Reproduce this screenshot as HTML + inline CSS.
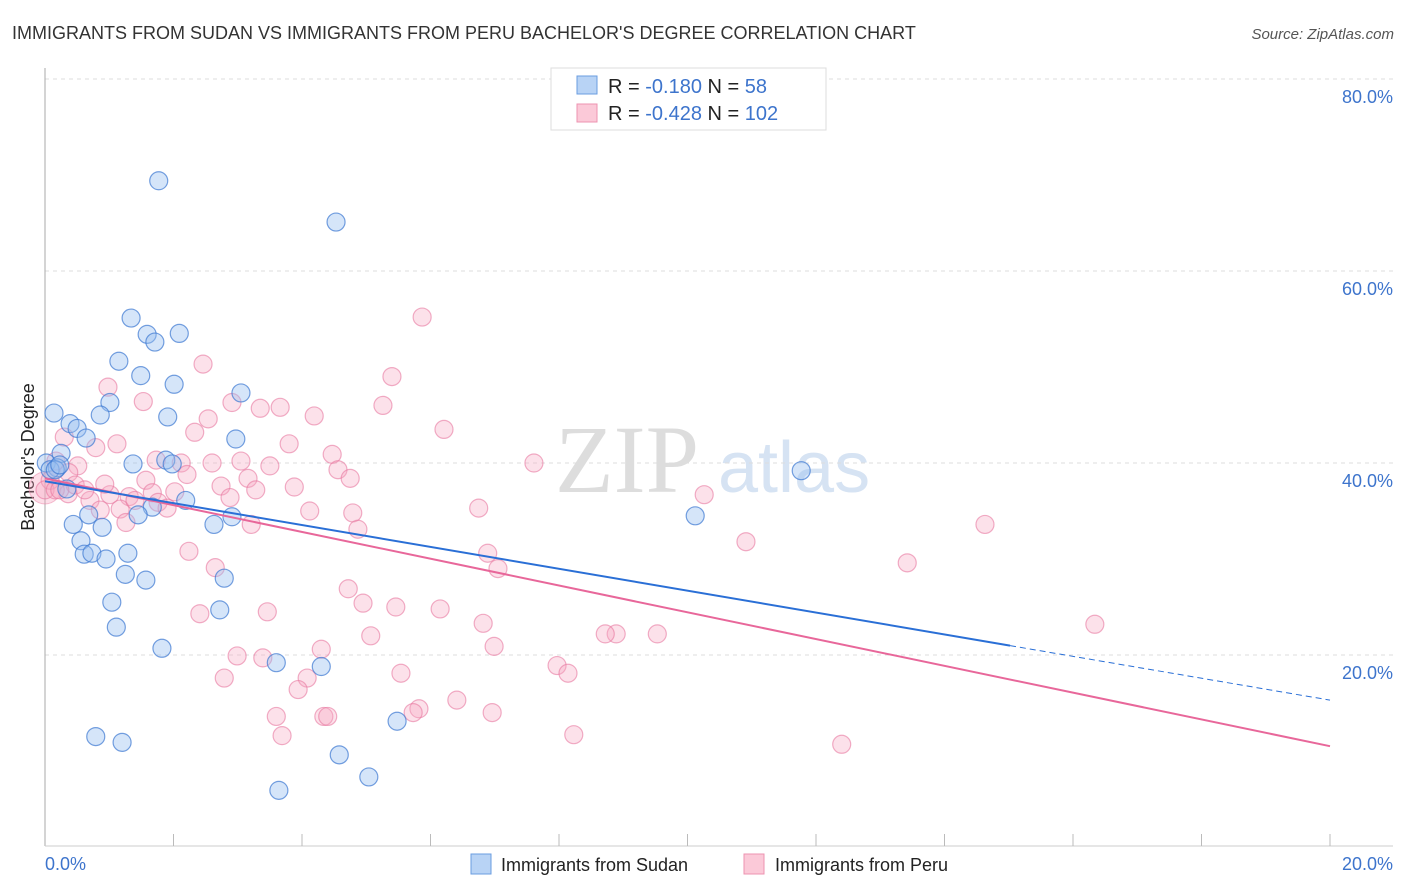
<!DOCTYPE html>
<html><head><meta charset="utf-8"><style>
body{margin:0;background:#fff;font-family:"Liberation Sans",sans-serif}
svg{display:block}
</style></head><body>
<svg width="1406" height="892" xmlns="http://www.w3.org/2000/svg">
<text x="12" y="39" font-size="18" fill="#333">IMMIGRANTS FROM SUDAN VS IMMIGRANTS FROM PERU BACHELOR'S DEGREE CORRELATION CHART</text>
<text x="1394" y="39" font-size="15" fill="#555" font-style="italic" text-anchor="end">Source: ZipAtlas.com</text>
<text x="555" y="492" font-size="96" fill="#ddd" font-family="Liberation Serif">ZIP</text>
<text x="718" y="492" font-size="72" fill="#d6e3f3">atlas</text>
<g id="grid"></g>
<line x1="45" y1="68" x2="45" y2="846" stroke="#aaa"/>
<line x1="45" y1="846" x2="1393" y2="846" stroke="#ccc"/>
<g id="xt"></g>
<text transform="translate(34,457) rotate(-90)" font-size="18" fill="#222" text-anchor="middle">Bachelor's Degree</text>
<g id="pts"></g>
<g id="lines"></g>
<g>
<rect x="551" y="68" width="275" height="62" fill="#fff" stroke="#ddd"/>
<rect x="577" y="76" width="20" height="18" fill="#b8d3f5" stroke="#6a9de0"/>
<rect x="577" y="104" width="20" height="18" fill="#fbc9d8" stroke="#ee93b0"/>
<text x="608" y="93" font-size="20" fill="#222">R = <tspan fill="#3d74cc">-0.180</tspan>   N = <tspan fill="#3d74cc">  58</tspan></text>
<text x="608" y="120" font-size="20" fill="#222">R = <tspan fill="#3d74cc">-0.428</tspan>   N = <tspan fill="#3d74cc">102</tspan></text>
</g>
<g>
<rect x="471" y="854" width="20" height="20" fill="#b8d3f5" stroke="#6a9de0"/>
<text x="501" y="871" font-size="18" fill="#222">Immigrants from Sudan</text>
<rect x="744" y="854" width="20" height="20" fill="#fbc9d8" stroke="#ee93b0"/>
<text x="775" y="871" font-size="18" fill="#222">Immigrants from Peru</text>
</g>
<text x="45" y="870" font-size="18" fill="#3d74cc">0.0%</text>
<text x="1393" y="870" font-size="18" fill="#3d74cc" text-anchor="end">20.0%</text>
<g id="yl"></g>
</svg>
<script>
const yTicks=[20,40,60,80];
const yTickLabels=["20.0%","40.0%","60.0%","80.0%"];
const sudanX=[1.77,4.53,1.34,1.59,1.71,2.09,1.15,1.49,2.01,3.05,0.14,1.01,0.86,1.91,0.39,0.50,0.64,2.97,0.25,0.02,0.19,0.08,1.37,1.88,1.98,11.77,0.34,2.19,1.67,1.45,0.68,2.91,10.12,0.44,0.89,2.63,0.56,0.61,0.73,1.29,0.95,1.25,1.57,2.79,1.04,2.72,1.11,1.82,3.60,4.30,0.79,1.20,5.48,4.58,5.04,3.64,0.16,0.23];
const sudanY=[69.4,65.1,55.1,53.4,52.6,53.5,50.6,49.1,48.2,47.3,45.2,46.3,45.0,44.8,44.1,43.6,42.6,42.5,41.0,40.0,39.5,39.3,39.9,40.3,39.9,39.2,37.3,36.1,35.4,34.6,34.6,34.4,34.5,33.6,33.3,33.6,31.9,30.5,30.6,30.6,30.0,28.4,27.8,28.0,25.5,24.7,22.9,20.7,19.2,18.8,11.5,10.9,13.1,9.6,7.3,5.9,39.3,39.8];
const peruX=[5.87,2.46,5.40,0.98,1.53,2.91,3.35,3.66,4.19,5.26,2.54,6.21,2.33,0.30,1.12,0.79,3.80,4.47,0.17,0.51,1.73,2.12,2.60,3.05,3.50,4.56,7.61,4.75,0.37,1.57,2.21,3.16,3.88,2.74,3.28,0.36,1.01,0.70,1.31,1.67,2.02,0.93,2.88,4.79,6.75,10.26,14.63,4.12,1.17,1.76,1.90,1.26,3.21,4.87,10.91,2.24,6.89,7.05,13.42,2.65,4.72,4.95,2.41,3.46,5.46,6.15,6.82,5.07,8.89,8.72,9.53,16.34,6.99,4.30,2.99,3.39,7.97,8.14,5.54,2.79,4.08,3.94,6.41,5.82,5.73,3.60,4.34,4.40,6.96,3.69,8.23,12.40,0.08,0.0,0.16,0.47,0.23,0.86,1.40,0.62];
const peruY=[55.2,50.3,49.0,47.9,46.4,46.3,45.7,45.8,44.9,46.0,44.6,43.5,43.2,42.7,42.0,41.6,42.0,40.9,40.2,39.7,40.3,40.0,40.0,40.2,39.7,39.3,40.0,38.4,39.0,38.2,38.8,38.4,37.5,37.6,37.2,36.8,36.7,36.1,36.5,36.9,37.0,37.8,36.4,34.8,35.3,36.7,33.6,35.0,35.2,35.9,35.3,33.8,33.6,33.1,31.8,30.8,30.6,29.0,29.6,29.1,26.9,25.4,24.3,24.5,25.0,24.8,23.3,22.0,22.2,22.2,22.2,23.2,20.9,20.6,19.9,19.7,18.9,18.1,18.1,17.6,17.6,16.4,15.3,14.4,14.0,13.6,13.6,13.6,14.0,11.6,11.7,10.7,38.2,37.2,37.2,37.7,37.2,35.1,36.1,37.2];
const sudanTrend=[38.1,15.3];
const peruTrend=[38.4,10.5];
const sudanSolidEnd=15.02;
const NS="http://www.w3.org/2000/svg";
const xs=v=>45+v/20*1285, ys=v=>847-v*9.6;
function mk(t,a,p){const e=document.createElementNS(NS,t);for(const k in a)e.setAttribute(k,a[k]);p.appendChild(e);return e;}
const grid=document.getElementById('grid'),yl=document.getElementById('yl'),xt=document.getElementById('xt');
yTicks.forEach((t,i)=>{
 const l=mk('line',{x1:45,x2:1393,y1:ys(t),y2:ys(t),stroke:'#ddd','stroke-dasharray':'4 4'},grid);
 
 
 const tx=mk('text',{x:1393,y:ys(t)+24,'font-size':18,fill:'#3d74cc','text-anchor':'end'},yl);
 tx.textContent=yTickLabels[i];
 
 
});
for(let i=1;i<=10;i++){
 const l=mk('line',{x1:xs(i*2),x2:xs(i*2),y1:834,y2:846,stroke:'#bbb'},xt);
 
 
}
const pts=document.getElementById('pts');
const big=mk('circle',{cx:xs(0),cy:ys(37.4),r:16,fill:'rgba(246,160,188,0.35)',stroke:'rgba(236,130,165,0.5)'},pts);


peruX.forEach((x,i)=>{
 const c=mk('circle',{cx:xs(x),cy:ys(peruY[i]),r:9,fill:'rgba(246,170,196,0.35)','stroke':'rgba(232,120,160,0.6)','stroke-width':1.2},pts);
 
 
});
sudanX.forEach((x,i)=>{
 const c=mk('circle',{cx:xs(x),cy:ys(sudanY[i]),r:9,fill:'rgba(150,190,240,0.4)','stroke':'rgba(60,120,210,0.7)','stroke-width':1.2},pts);
 
 
});
const lines=document.getElementById('lines');
const at=(tr,x)=>tr[0]+(tr[1]-tr[0])*x/20;
let l=mk('line',{x1:xs(0),y1:ys(at(peruTrend,0)),x2:xs(20),y2:ys(at(peruTrend,20)),stroke:'#e8679a','stroke-width':2},lines);


l=mk('line',{x1:xs(0),y1:ys(at(sudanTrend,0)),x2:xs(sudanSolidEnd),y2:ys(at(sudanTrend,sudanSolidEnd)),stroke:'#2a6fd6','stroke-width':2},lines);


l=mk('line',{x1:xs(sudanSolidEnd),y1:ys(at(sudanTrend,sudanSolidEnd)),x2:xs(20),y2:ys(at(sudanTrend,20)),stroke:'#2a6fd6','stroke-width':1,'stroke-dasharray':'6 4'},lines);


</script>
</body></html>
